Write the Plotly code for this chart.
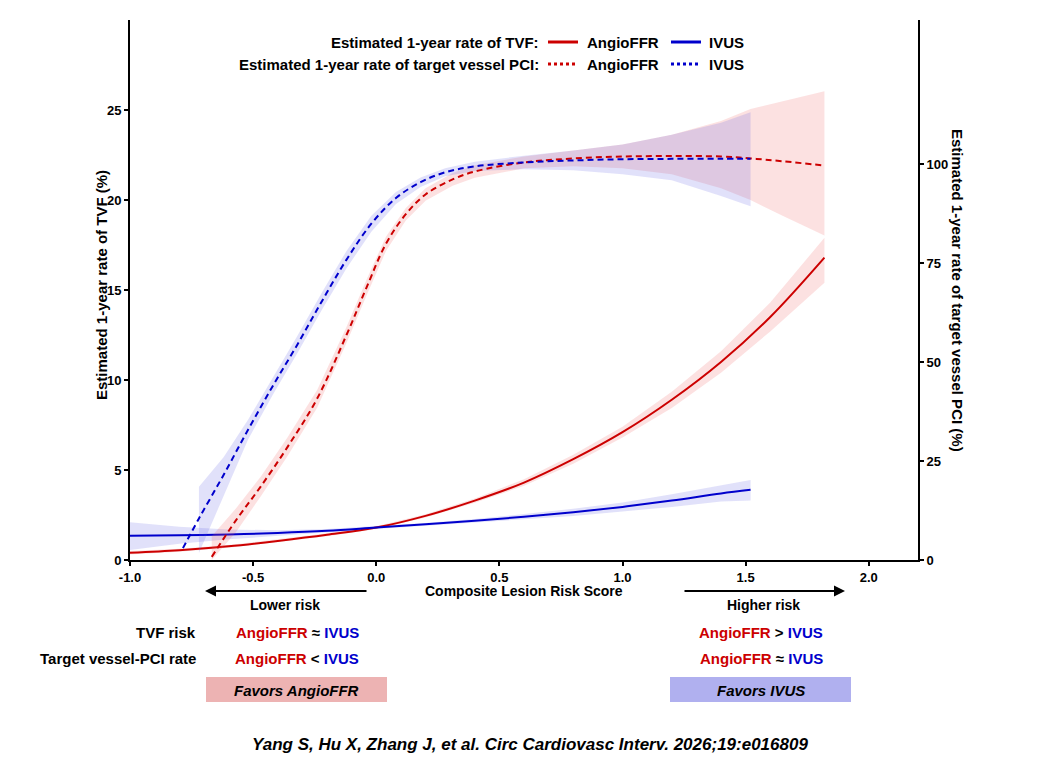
import plotly.graph_objs as go

# TVF (left axis, %)
tvf_angio_x = [-1.0, -0.8, -0.6, -0.4, -0.2, 0.0, 0.2, 0.4, 0.6, 0.8, 1.0, 1.2, 1.4, 1.6, 1.82]
tvf_angio_y = [0.40, 0.54, 0.76, 1.06, 1.40, 1.80, 2.45, 3.30, 4.30, 5.60, 7.10, 8.90, 11.0, 13.5, 16.8]
tvf_angio_lo = [0.30, 0.46, 0.68, 0.98, 1.32, 1.72, 2.36, 3.18, 4.12, 5.35, 6.80, 8.45, 10.4, 12.7, 15.4]
tvf_angio_hi = [0.50, 0.62, 0.84, 1.14, 1.48, 1.88, 2.54, 3.42, 4.48, 5.85, 7.40, 9.35, 11.6, 14.3, 17.9]

tvf_ivus_x = [-1.0, -0.8, -0.6, -0.4, -0.2, 0.0, 0.2, 0.4, 0.6, 0.8, 1.0, 1.2, 1.4, 1.52]
tvf_ivus_y = [1.35, 1.38, 1.42, 1.50, 1.62, 1.80, 1.98, 2.18, 2.40, 2.65, 2.95, 3.30, 3.70, 3.90]
tvf_ivus_lo = [0.55, 0.90, 1.15, 1.35, 1.52, 1.72, 1.90, 2.08, 2.25, 2.45, 2.70, 2.95, 3.25, 3.30]
tvf_ivus_hi = [2.10, 1.85, 1.70, 1.65, 1.72, 1.88, 2.06, 2.28, 2.55, 2.85, 3.20, 3.65, 4.15, 4.45]

# target vessel PCI (right axis, %)
pci_angio_x = [-0.668, -0.57, -0.47, -0.36, -0.24, -0.12, -0.04, 0.04, 0.12, 0.2, 0.31, 0.40,
               0.6, 0.8, 1.0, 1.2, 1.4, 1.52, 1.65, 1.82]
pci_angio_y = [0.8, 10, 18.5, 28.6, 40.8, 57, 68.8, 80, 87.4, 92.4, 96.2, 98.2,
               100.5, 101.5, 102, 102.1, 102, 101.5, 100.8, 99.7]
pci_angio_lo = [0, 7, 16, 26.3, 38.5, 55, 66.8, 78.2, 85.8, 90.8, 94.6, 96.6,
                99, 99.5, 99, 97.5, 94, 91, 87, 82]
pci_angio_hi = [6, 13, 21, 31, 43, 59, 70.8, 81.8, 89, 94, 97.8, 99.8,
                102, 103.5, 105, 107.5, 111, 114, 116, 118.5]

pci_ivus_x = [-0.785, -0.72, -0.62, -0.52, -0.42, -0.32, -0.22, -0.12, -0.02, 0.08, 0.18, 0.28, 0.4,
              0.6, 0.8, 1.0, 1.2, 1.4, 1.52]
pci_ivus_y = [3, 10.5, 21.5, 33, 44, 54.5, 65.5, 76, 85, 91.5, 95.5, 98, 99.5,
              100.5, 101, 101.3, 101.4, 101.4, 101.4]
pci_ivus_band_x = pci_ivus_x[1:]
pci_ivus_lo = [1.8, 16, 30.5, 41.8, 52.3, 63.3, 73.8, 83, 90, 94.3, 97, 98.3,
               98.8, 98.5, 97.5, 96, 92, 89.4]
pci_ivus_hi = [18.5, 26, 35.5, 46.2, 56.7, 67.7, 78.2, 87, 93, 96.7, 99, 100.7,
               102.2, 103.5, 105, 107.5, 110.5, 113.2]

x_ticks = [-1.0, -0.5, 0.0, 0.5, 1.0, 1.5, 2.0]
left_ticks = [0, 5, 10, 15, 20, 25]
right_ticks = [0, 25, 50, 75, 100]

RED = '#cc0000'
BLUE = '#0000cc'
FONT = 'Liberation Sans Narrow, Liberation Sans, Arial'


def band(x, lo, hi, color, yaxis):
    return go.Scatter(x=list(x) + list(x)[::-1], y=list(lo) + list(hi)[::-1],
                      fill='toself', fillcolor=color, line=dict(width=0),
                      mode='lines', hoverinfo='skip', yaxis=yaxis, showlegend=False)


data = [
    band(tvf_angio_x, tvf_angio_lo, tvf_angio_hi, 'rgba(240,90,90,0.18)', 'y'),
    band(tvf_ivus_x, tvf_ivus_lo, tvf_ivus_hi, 'rgba(90,90,230,0.18)', 'y'),
    band(pci_angio_x, pci_angio_lo, pci_angio_hi, 'rgba(240,90,90,0.18)', 'y2'),
    band(pci_ivus_band_x, pci_ivus_lo, pci_ivus_hi, 'rgba(90,90,230,0.18)', 'y2'),
    go.Scatter(x=tvf_angio_x, y=tvf_angio_y, mode='lines', line=dict(color=RED, width=2, shape='spline'),
               showlegend=False),
    go.Scatter(x=tvf_ivus_x, y=tvf_ivus_y, mode='lines', line=dict(color=BLUE, width=2, shape='spline'),
               showlegend=False),
    go.Scatter(x=pci_angio_x, y=pci_angio_y, mode='lines', yaxis='y2',
               line=dict(color=RED, width=2, dash='6px,4px', shape='spline'), showlegend=False),
    go.Scatter(x=pci_ivus_x, y=pci_ivus_y, mode='lines', yaxis='y2',
               line=dict(color=BLUE, width=2, dash='6px,4px', shape='spline'), showlegend=False),
]

tickfont = dict(family=FONT, size=13, color='black', weight='bold')
axis_common = dict(showline=True, linecolor='black', linewidth=2, ticks='outside', ticklen=4,
                   tickwidth=1.5, tickcolor='black', showgrid=False, zeroline=False, tickfont=tickfont)


# page puts the figure 8px in from the corner; positions below are in window pixels
def px_x(p):
    return (p - 130) / 788


def px_y(p):
    return (560 - p) / 540


def txt(s, x, y, size=15, anchor='center', italic=False, color='black'):
    return dict(text=s, x=x, y=y, xref='paper', yref='paper', showarrow=False, xanchor=anchor,
                yanchor='middle', font=dict(family=FONT, size=size, color=color, weight='bold',
                                            style='italic' if italic else 'normal'))


def pair(sign):
    return f"<span style='color:{RED}'>AngioFFR</span> {sign} <span style='color:{BLUE}'>IVUS</span>"


annotations = [
    txt('Estimated 1-year rate of TVF:', px_x(541), px_y(42), anchor='right'),
    txt('AngioFFR', px_x(585), px_y(42), anchor='left'),
    txt('IVUS', px_x(707), px_y(42), anchor='left'),
    txt('Estimated 1-year rate of target vessel PCI:', px_x(541), px_y(64), anchor='right'),
    txt('AngioFFR', px_x(585), px_y(64), anchor='left'),
    txt('IVUS', px_x(707), px_y(64), anchor='left'),
    dict(text='Estimated 1-year rate of TVF (%)', x=px_x(101), y=px_y(285), xref='paper', yref='paper',
         xanchor='center', yanchor='middle', showarrow=False, textangle=-90,
         font=dict(family=FONT, size=15, color='black', weight='bold')),
    dict(text='Estimated 1-year rate of target vessel PCI (%)', x=px_x(958), y=px_y(290), xref='paper',
         yref='paper', xanchor='center', yanchor='middle', showarrow=False, textangle=90,
         font=dict(family=FONT, size=15, color='black', weight='bold')),
    txt('Composite Lesion Risk Score', 0.5, px_y(591), size=14),
    dict(text='', x=px_x(205), y=px_y(591), xref='paper', yref='paper', ax=163, ay=0, axref='pixel',
         ayref='pixel', showarrow=True, arrowhead=2, arrowsize=1, arrowwidth=2.2, arrowcolor='black'),
    dict(text='', x=px_x(845), y=px_y(591), xref='paper', yref='paper', ax=-162, ay=0, axref='pixel',
         ayref='pixel', showarrow=True, arrowhead=2, arrowsize=1, arrowwidth=2.2, arrowcolor='black'),
    txt('Lower risk', px_x(285), px_y(605), size=14),
    txt('Higher risk', px_x(763), px_y(605), size=14),
    txt('TVF risk', px_x(198), px_y(632), size=15, anchor='right'),
    txt('Target vessel-PCI rate', px_x(198), px_y(658), size=15, anchor='right'),
    txt(pair('≈'), px_x(297), px_y(632), size=15),
    txt(pair('&lt;'), px_x(297), px_y(658), size=15),
    txt(pair('&gt;'), px_x(761), px_y(632), size=15),
    txt(pair('≈'), px_x(761), px_y(658), size=15),
    txt('Favors AngioFFR', px_x(296), px_y(690), size=15, italic=True),
    txt('Favors IVUS', px_x(761), px_y(690), size=15, italic=True),
    txt('Yang S, Hu X, Zhang J, et al. Circ Cardiovasc Interv. 2026;19:e016809',
        px_x(530), px_y(744), size=17, italic=True),
]

shapes = [
    dict(type='line', xref='paper', yref='paper', x0=px_x(548), x1=px_x(578), y0=px_y(42), y1=px_y(42),
         line=dict(color=RED, width=3)),
    dict(type='line', xref='paper', yref='paper', x0=px_x(671), x1=px_x(701), y0=px_y(42), y1=px_y(42),
         line=dict(color=BLUE, width=3)),
    dict(type='line', xref='paper', yref='paper', x0=px_x(548), x1=px_x(578), y0=px_y(64), y1=px_y(64),
         line=dict(color=RED, width=3, dash='dot')),
    dict(type='line', xref='paper', yref='paper', x0=px_x(671), x1=px_x(701), y0=px_y(64), y1=px_y(64),
         line=dict(color=BLUE, width=3, dash='dot')),
    dict(type='rect', xref='paper', yref='paper', x0=px_x(206), x1=px_x(387), y0=px_y(702), y1=px_y(677),
         fillcolor='#edb3b3', line=dict(width=0), layer='below'),
    dict(type='rect', xref='paper', yref='paper', x0=px_x(670), x1=px_x(851), y0=px_y(702), y1=px_y(677),
         fillcolor='#b0b0ef', line=dict(width=0), layer='below'),
]

layout = go.Layout(
    width=1030, height=749,
    margin=dict(l=122, r=120, t=12, b=197),
    paper_bgcolor='white', plot_bgcolor='white',
    showlegend=False,
    xaxis=dict(range=[-1.0, 2.2], tickvals=x_ticks, ticktext=[f'{v:.1f}' for v in x_ticks], **axis_common),
    yaxis=dict(range=[0, 30], tickvals=left_ticks, **axis_common),
    yaxis2=dict(range=[0, 136.5], tickvals=right_ticks, overlaying='y', side='right', **axis_common),
    annotations=annotations,
    shapes=shapes,
)

fig = go.Figure(data=data, layout=layout)
fig.write_html('out.html')
